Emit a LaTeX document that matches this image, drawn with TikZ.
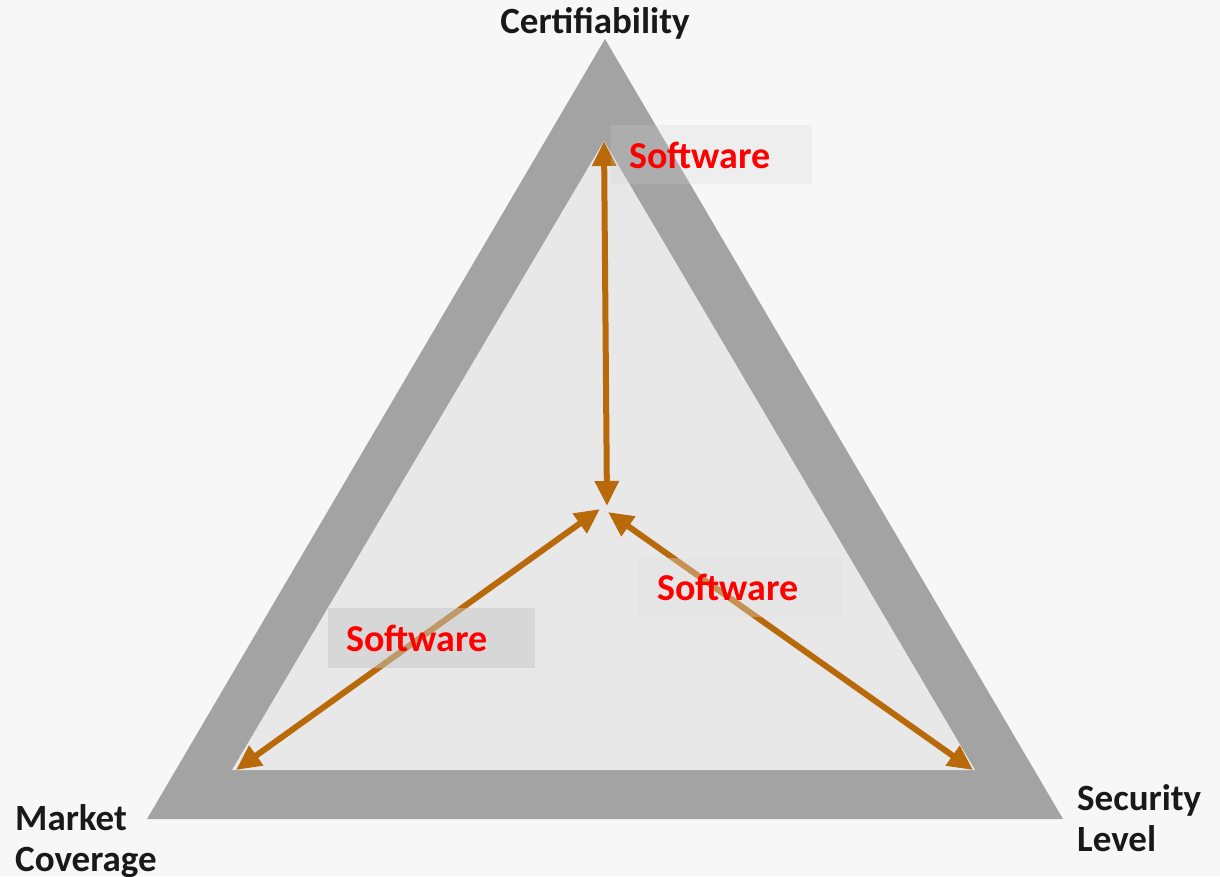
\documentclass[tikz,border=0pt]{standalone}
\usepackage{fontspec}
\setmainfont{Carlito}
\usetikzlibrary{arrows.meta}
\definecolor{bgcol}{HTML}{F7F7F7}
\definecolor{rimcol}{HTML}{A3A3A3}
\definecolor{facecol}{HTML}{E8E8E8}
\definecolor{arrcol}{HTML}{B8690A}
\tikzset{
  axislabel/.style={font=\fontsize{37}{41}\selectfont\bfseries, text=black!90, inner sep=0pt},
  swtag/.style={font=\fontsize{38}{40}\selectfont\bfseries, text=red, inner sep=0pt, anchor=west},
  swbox/.style={draw=none},
  link/.style={arrcol, line width=6pt, {Triangle[length=25pt,width=23pt]}-{Triangle[length=25pt,width=23pt]}},
}
\begin{document}
\begin{tikzpicture}[x=1pt,y=-1pt]
  % canvas
  \fill[bgcol] (0,0) rectangle (1220,876);
  \useasboundingbox (0,0) rectangle (1220,876);

  % triangle: grey rim and light face
  \fill[rimcol] (605,39) -- (1063,819) -- (147,819) -- cycle;
  \fill[facecol] (604,141) -- (975,770) -- (232,770) -- cycle;

  % arrow end points
  \coordinate (top) at (604,141);
  \coordinate (left) at (236,770);
  \coordinate (right) at (973,770);
  \coordinate (ctop) at (607,506);
  \coordinate (cleft) at (600,509);
  \coordinate (cright) at (608,512);

  \draw[link] (top) -- (ctop);
  \draw[link] (left) -- (cleft);
  \draw[link] (right) -- (cright);

  % label boxes
  \fill[swbox, fill=black!18, opacity=0.22] (611,125) rectangle (812,184);
  \fill[swbox, fill=black!22, opacity=0.5] (328,608) rectangle (535,668);
  \fill[swbox, fill=black!12, opacity=0.35] (638,558) rectangle (842,617);

  \node[swtag] (swtop) at (629,155) {Software};
  \node[swtag] (swleft) at (346,638) {Software};
  \node[swtag] (swright) at (657,587) {Software};

  % corner labels
  \node[axislabel, anchor=base] (cert) at (595,33) {Certifiability};
  \node[axislabel, anchor=north west, align=left] (market) at (15,804) {Market\\Coverage};
  \node[axislabel, anchor=north west, align=left] (security) at (1077,784) {Security\\Level};
\end{tikzpicture}
\end{document}
